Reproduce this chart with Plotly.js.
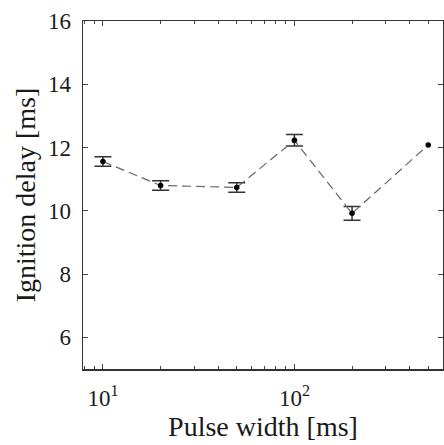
<!DOCTYPE html>
<html>
<head>
<meta charset="utf-8">
<script src="https://cdn.plot.ly/plotly-3.0.1.min.js"></script>
<style>html,body{margin:0;padding:0;background:#fff;}#chart{width:444px;height:445px;}</style>
</head>
<body>
<div id="chart"></div>
<script>
const pulseWidth = [10, 20, 50, 100, 200, 500];
const ignitionDelay = [11.56, 10.8, 10.74, 12.23, 9.92, 12.08];
const errorHalf = [0.15, 0.15, 0.15, 0.18, 0.22];
const xTickVals = [10, 100];
const xTickText = ['10<sup>1</sup>', '10<sup>2</sup>'];
const xMinorVals = [8, 9, 20, 30, 40, 50, 60, 70, 80, 90, 200, 300, 400, 500];
const yTickVals = [6, 8, 10, 12, 14, 16];

const nErr = errorHalf.length;
const errTrace = {
  x: pulseWidth.slice(0, nErr), y: ignitionDelay.slice(0, nErr), type: 'scatter', mode: 'markers',
  marker: {color: 'rgba(0,0,0,0)', size: 1},
  error_y: {type: 'data', array: errorHalf, visible: true, color: '#333', thickness: 1.5, width: 8.5},
  showlegend: false
};
const trace = {
  x: pulseWidth, y: ignitionDelay, type: 'scatter', mode: 'lines+markers',
  line: {color: '#666', width: 1.2, dash: '9px,5px'},
  marker: {color: '#000', size: 5.5},
  showlegend: false
};
const fam = 'Liberation Serif';
const font = {family: fam, color: '#1a1a1a'};
const layout = {
  width: 444, height: 445,
  margin: {l: 83, r: 1, t: 21, b: 76},
  paper_bgcolor: '#fff', plot_bgcolor: '#fff',
  font: Object.assign({size: 23}, font),
  xaxis: {
    type: 'log', range: [Math.log10(7.87), Math.log10(597)],
    tickvals: xTickVals, ticktext: xTickText,
    ticks: 'inside', ticklen: 5, tickcolor: '#444', tickwidth: 1,
    minor: {tickvals: xMinorVals, ticks: 'inside', ticklen: 3, tickcolor: '#444', tickwidth: 1},
    showline: true, linecolor: '#333', linewidth: 1.5, mirror: 'ticks',
    showgrid: false, zeroline: false, ticklabelstandoff: 8,
    tickfont: Object.assign({size: 23}, font),
    title: {text: 'Pulse width [ms]', font: Object.assign({size: 28}, font), standoff: 0}
  },
  yaxis: {
    range: [5, 16], tickvals: yTickVals,
    ticks: 'inside', ticklen: 5, tickcolor: '#444', tickwidth: 1,
    showline: true, linecolor: '#333', linewidth: 1.5, mirror: 'ticks',
    showgrid: false, zeroline: false, ticklabelstandoff: 6,
    tickfont: Object.assign({size: 23}, font),
    title: {text: 'Ignition delay [ms]', font: Object.assign({size: 28}, font), standoff: 4}
  }
};
Plotly.newPlot('chart', [errTrace, trace], layout, {displayModeBar: false, staticPlot: true});
</script>
</body>
</html>
